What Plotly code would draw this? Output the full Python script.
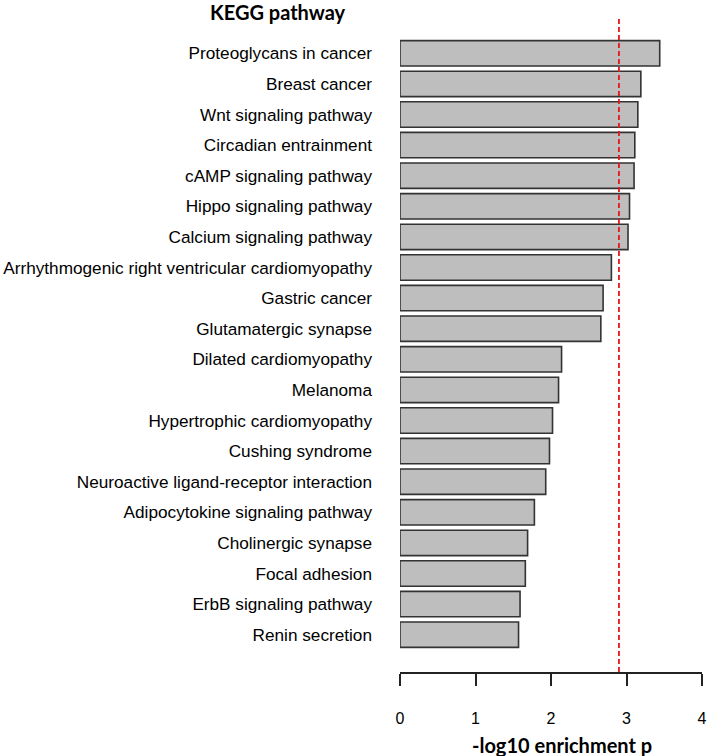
import plotly.graph_objects as go

pathways = [
    "Proteoglycans in cancer",
    "Breast cancer",
    "Wnt signaling pathway",
    "Circadian entrainment",
    "cAMP signaling pathway",
    "Hippo signaling pathway",
    "Calcium signaling pathway",
    "Arrhythmogenic right ventricular cardiomyopathy",
    "Gastric cancer",
    "Glutamatergic synapse",
    "Dilated cardiomyopathy",
    "Melanoma",
    "Hypertrophic cardiomyopathy",
    "Cushing syndrome",
    "Neuroactive ligand-receptor interaction",
    "Adipocytokine signaling pathway",
    "Cholinergic synapse",
    "Focal adhesion",
    "ErbB signaling pathway",
    "Renin secretion",
]
neg_log10_p = [3.44, 3.19, 3.15, 3.11, 3.10, 3.04, 3.02, 2.80, 2.69, 2.66,
               2.14, 2.10, 2.02, 1.98, 1.93, 1.78, 1.69, 1.66, 1.59, 1.57]
threshold = 2.90
x_ticks = [0, 1, 2, 3, 4]

fig = go.Figure()
fig.add_trace(go.Bar(
    x=neg_log10_p, y=pathways, orientation="h",
    marker=dict(color="#BEBEBE", line=dict(color="#333333", width=1.6)),
    hoverinfo="x+y",
))

fig.add_shape(type="line", xref="x", yref="paper", x0=threshold, x1=threshold,
              y0=0, y1=1, line=dict(color="#E8141C", width=1.8, dash="5px,3px"))

W, H = 709, 756
L, R, T, B = 400, 7, 16, 84
pw, ph = W - L - R, H - T - B

def px(xp):
    return (xp - L) / pw

def py(yp):
    return 1 - (yp - T) / ph

fig.add_annotation(text="<b>KEGG pathway</b>", xref="paper", yref="paper",
                   x=px(278), y=py(12), xanchor="center", yanchor="middle",
                   showarrow=False, font=dict(family="Lato", size=20, color="#000"))
fig.add_annotation(text="<b>-log10 enrichment p</b>", xref="paper", yref="paper",
                   x=px(562), y=py(745), xanchor="center", yanchor="middle",
                   showarrow=False, font=dict(family="Lato", size=20, color="#000"))

fig.update_layout(
    width=W, height=H,
    margin=dict(l=L, r=R, t=T, b=B, autoexpand=False),
    paper_bgcolor="white", plot_bgcolor="white",
    bargap=0.17,
    showlegend=False,
    font=dict(family="Liberation Sans, Arial", size=17, color="#000"),
)
fig.update_xaxes(range=[0, 4], tickvals=x_ticks, ticktext=[str(v) for v in x_ticks],
                 showgrid=False, zeroline=False, showline=True, linecolor="#222",
                 linewidth=1.5, ticks="outside", ticklen=12, tickwidth=1.5,
                 tickcolor="#222", ticklabelstandoff=19, automargin=False,
                 tickfont=dict(family="Liberation Sans, Arial", size=16, color="#000"))
fig.update_yaxes(type="category", range=[20.22, -1.22], showgrid=False, zeroline=False,
                 showline=False, ticks="", ticklabelstandoff=27, automargin=False,
                 tickfont=dict(family="Liberation Sans, Arial", size=17.2, color="#000"))

fig.write_html("out.html", config={"displayModeBar": False},
               post_script="document.body.style.margin='0';document.body.style.overflow='hidden';")
